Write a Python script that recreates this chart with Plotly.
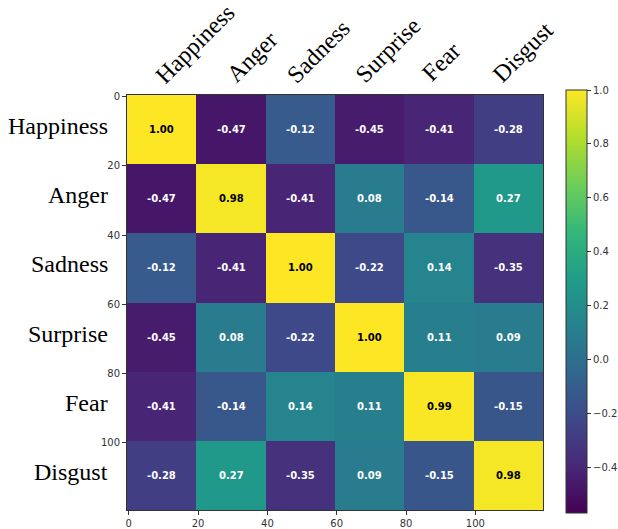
import plotly.graph_objects as go

emotions = ["Happiness", "Anger", "Sadness", "Surprise", "Fear", "Disgust"]
corr = [
    [1.00, -0.47, -0.12, -0.45, -0.41, -0.28],
    [-0.47, 0.98, -0.41, 0.08, -0.14, 0.27],
    [-0.12, -0.41, 1.00, -0.22, 0.14, -0.35],
    [-0.45, 0.08, -0.22, 1.00, 0.11, 0.09],
    [-0.41, -0.14, 0.14, 0.11, 0.99, -0.15],
    [-0.28, 0.27, -0.35, 0.09, -0.15, 0.98],
]
axis_ticks = [0, 20, 40, 60, 80, 100]
cbar_ticks = [-0.4, -0.2, 0.0, 0.2, 0.4, 0.6, 0.8, 1.0]
zmin, zmax = -0.57, 1.0
block = 20
n_items = 120

W, H = 618, 529
L, R, T, B = 127, 75, 95, 19
pw, ph = W - L - R, H - T - B

def px2paper(x, y):
    return (x - L) / pw, (H - B - y) / ph

fig = go.Figure()
fig.add_trace(go.Heatmap(
    z=corr, x0=block / 2 - 0.5, dx=block, y0=block / 2 - 0.5, dy=block,
    colorscale="Viridis", zmin=zmin, zmax=zmax, showscale=True,
    hoverinfo="skip",
    colorbar=dict(
        thickness=21, thicknessmode="pixels", lenmode="pixels", len=423,
        x=px2paper(566, 0)[0], xanchor="left", y=px2paper(0, 301.5)[1], yanchor="middle",
        outlinewidth=1, outlinecolor="#333333", xpad=0, ypad=0,
        tickvals=cbar_ticks, tickformat=".1f", ticks="outside", ticklen=4,
        tickcolor="#333333", tickfont=dict(family="DejaVu Sans", size=10, color="#333333"),
    ),
))

annotations = []
for i, row in enumerate(corr):
    for j, v in enumerate(row):
        annotations.append(dict(
            x=j * block + block / 2 - 0.5, y=i * block + block / 2 - 0.5,
            xref="x", yref="y", text=f"<b>{v:.2f}</b>", showarrow=False,
            font=dict(family="DejaVu Sans", size=10, color="black" if v > 0.5 else "white"),
        ))

# left category labels
for i, name in enumerate(emotions):
    annotations.append(dict(
        x=px2paper(110, 0)[0], xref="paper", xanchor="right",
        y=i * block + block / 2 - 1.5, yref="y", yanchor="middle",
        text=name, showarrow=False,
        font=dict(family="Liberation Serif", size=24, color="black"),
    ))

top_centers = [(195, 44), (252, 57), (318, 52), (388, 50), (441, 62), (523, 52)]
for name, (cx, cy) in zip(emotions, top_centers):
    px, py = px2paper(cx, cy)
    annotations.append(dict(
        x=px, y=py, xref="paper", yref="paper", xanchor="center", yanchor="middle",
        text=name, textangle=-45, showarrow=False,
        font=dict(family="Liberation Serif", size=24, color="black"),
    ))

axis_common = dict(
    tickvals=axis_ticks, ticks="outside", ticklen=4, tickcolor="#333333",
    tickfont=dict(family="DejaVu Sans", size=10, color="#333333"),
    showline=True, linecolor="#333333", linewidth=1, mirror=True,
    showgrid=False, zeroline=False,
)
fig.update_layout(
    width=W, height=H, margin=dict(l=L, r=R, t=T, b=B, autoexpand=False),
    paper_bgcolor="white", plot_bgcolor="white",
    xaxis=dict(range=[-0.5, n_items - 0.5], automargin=False, **axis_common),
    yaxis=dict(range=[n_items - 0.5, -0.5], automargin=False, **axis_common),
    annotations=annotations,
    showlegend=False,
)
fig.write_html("out.html", config={"displayModeBar": False},
               post_script="document.body.style.margin='0';document.body.style.overflow='hidden';")
